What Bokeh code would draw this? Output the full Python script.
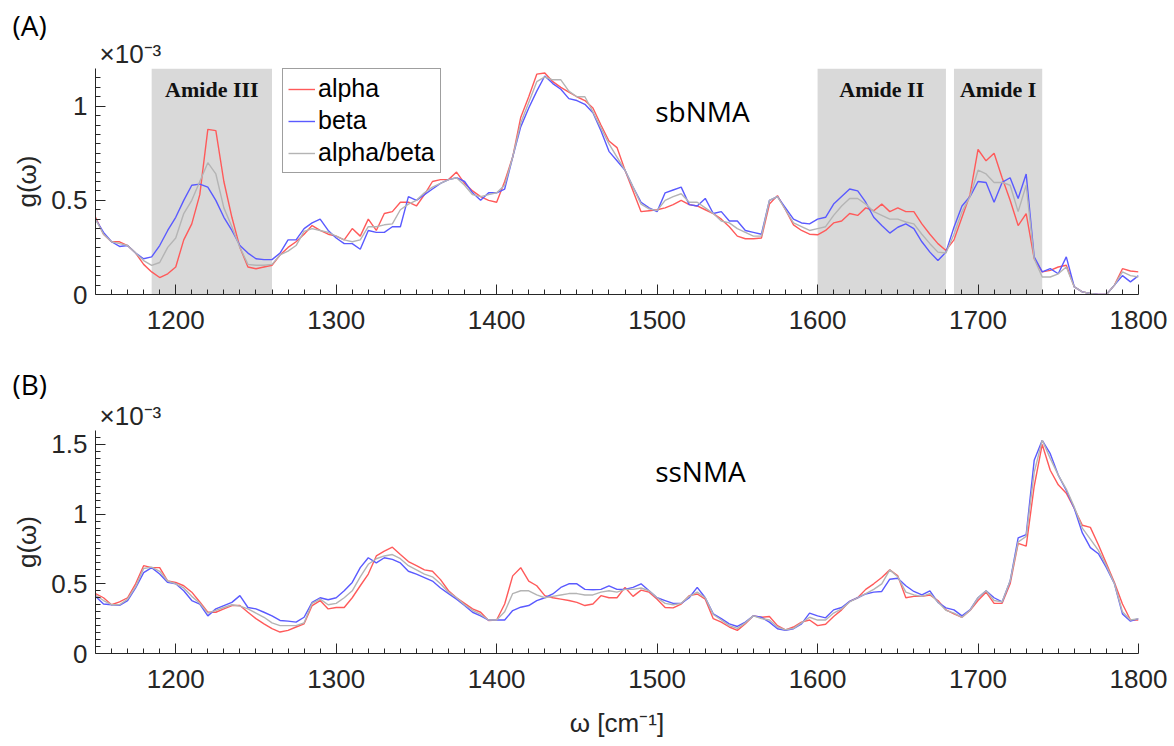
from bokeh.plotting import figure
from bokeh.layouts import column
from bokeh.models import (Range1d, FixedTicker, Label, BoxAnnotation, Legend,
                          LegendItem, NumeralTickFormatter, Title)
from bokeh.embed import file_html
from bokeh.resources import INLINE

# ---------------- data (g(w) in units of 1e-3) ----------------
wavenumber = list(range(1150, 1805, 5))

sb_alpha = [
    0.41, 0.32, 0.28, 0.28, 0.26, 0.22, 0.16, 0.12, 0.09, 0.11,
    0.146, 0.29, 0.375, 0.53, 0.877, 0.87, 0.60, 0.41, 0.25, 0.146,
    0.137, 0.146, 0.155, 0.21, 0.25, 0.28, 0.32, 0.366, 0.34, 0.32,
    0.31, 0.29, 0.35, 0.31, 0.40, 0.34, 0.43, 0.44, 0.49, 0.49,
    0.47, 0.53, 0.60, 0.61, 0.61, 0.65, 0.59, 0.55, 0.52, 0.50,
    0.49, 0.60, 0.73, 0.94, 1.05, 1.17, 1.176, 1.13, 1.10, 1.075,
    1.05, 1.03, 0.99, 0.90, 0.815, 0.78, 0.66, 0.55, 0.44, 0.445,
    0.45, 0.46, 0.477, 0.50, 0.477, 0.47, 0.45, 0.43, 0.40, 0.36,
    0.31, 0.296, 0.296, 0.30, 0.48, 0.525, 0.45, 0.37, 0.34, 0.32,
    0.317, 0.34, 0.38, 0.39, 0.43, 0.42, 0.46, 0.445, 0.48, 0.44,
    0.46, 0.44, 0.44, 0.375, 0.32, 0.27, 0.234, 0.29, 0.41, 0.53,
    0.77, 0.71, 0.75, 0.62, 0.50, 0.366, 0.43, 0.19, 0.12, 0.128,
    0.146, 0.155, 0.04, 0.014, 0.005, 0.0, 0.0, 0.05, 0.137, 0.125,
    0.12]

sb_beta = [
    0.40, 0.33, 0.28, 0.255, 0.26, 0.22, 0.19, 0.20, 0.26, 0.34,
    0.41, 0.50, 0.58, 0.586, 0.57, 0.50, 0.41, 0.34, 0.26, 0.22,
    0.19, 0.185, 0.185, 0.22, 0.29, 0.29, 0.35, 0.38, 0.40, 0.34,
    0.30, 0.27, 0.27, 0.24, 0.34, 0.33, 0.33, 0.36, 0.36, 0.52,
    0.50, 0.53, 0.56, 0.59, 0.61, 0.62, 0.60, 0.54, 0.50, 0.54,
    0.54, 0.56, 0.73, 0.89, 0.99, 1.08, 1.16, 1.12, 1.09, 1.04,
    1.03, 1.01, 0.965, 0.87, 0.76, 0.71, 0.66, 0.57, 0.49, 0.46,
    0.44, 0.54, 0.555, 0.57, 0.477, 0.47, 0.51, 0.43, 0.44, 0.39,
    0.39, 0.34, 0.33, 0.32, 0.50, 0.52, 0.46, 0.40, 0.38, 0.375,
    0.40, 0.41, 0.48, 0.52, 0.56, 0.55, 0.49, 0.41, 0.366, 0.326,
    0.357, 0.375, 0.35, 0.28, 0.225, 0.18, 0.225, 0.357, 0.47, 0.52,
    0.60, 0.595, 0.49, 0.595, 0.62, 0.51, 0.64, 0.20, 0.12, 0.137,
    0.11, 0.20, 0.04, 0.014, 0.005, 0.0, 0.0, 0.05, 0.10, 0.067,
    0.10]

sb_alphabeta = [
    0.40, 0.32, 0.28, 0.27, 0.26, 0.22, 0.18, 0.155, 0.17, 0.25,
    0.30, 0.43, 0.50, 0.60, 0.70, 0.64, 0.46, 0.36, 0.25, 0.16,
    0.155, 0.155, 0.16, 0.21, 0.23, 0.26, 0.335, 0.35, 0.34, 0.33,
    0.31, 0.29, 0.28, 0.29, 0.36, 0.36, 0.37, 0.375, 0.45, 0.48,
    0.50, 0.54, 0.57, 0.59, 0.61, 0.62, 0.58, 0.53, 0.52, 0.53,
    0.54, 0.58, 0.73, 0.91, 1.02, 1.13, 1.155, 1.14, 1.14, 1.08,
    1.05, 1.05, 0.97, 0.885, 0.80, 0.73, 0.66, 0.57, 0.48, 0.455,
    0.445, 0.50, 0.52, 0.535, 0.49, 0.49, 0.46, 0.43, 0.39, 0.38,
    0.35, 0.33, 0.31, 0.31, 0.50, 0.52, 0.45, 0.38, 0.36, 0.34,
    0.35, 0.36, 0.42, 0.47, 0.51, 0.51, 0.48, 0.44, 0.42, 0.40,
    0.40, 0.385, 0.375, 0.32, 0.27, 0.225, 0.22, 0.32, 0.44, 0.52,
    0.66, 0.64, 0.595, 0.595, 0.58, 0.44, 0.58, 0.19, 0.093, 0.093,
    0.11, 0.146, 0.04, 0.014, 0.005, 0.0, 0.0, 0.05, 0.12, 0.10,
    0.093]

ss_alpha = [
    0.43, 0.40, 0.35, 0.37, 0.40, 0.50, 0.63, 0.616, 0.616, 0.52,
    0.51, 0.486, 0.44, 0.37, 0.296, 0.296, 0.32, 0.344, 0.344, 0.296,
    0.25, 0.213, 0.178, 0.154, 0.166, 0.19, 0.213, 0.344, 0.38, 0.32,
    0.33, 0.33, 0.40, 0.486, 0.57, 0.70, 0.735, 0.763, 0.71, 0.66,
    0.63, 0.60, 0.59, 0.53, 0.45, 0.40, 0.36, 0.32, 0.296, 0.237,
    0.24, 0.355, 0.557, 0.616, 0.52, 0.486, 0.415, 0.40, 0.39, 0.38,
    0.367, 0.344, 0.355, 0.415, 0.40, 0.40, 0.474, 0.41, 0.455, 0.44,
    0.39, 0.33, 0.327, 0.355, 0.415, 0.427, 0.39, 0.25, 0.225, 0.19,
    0.166, 0.213, 0.27, 0.26, 0.265, 0.20, 0.17, 0.19, 0.225, 0.24,
    0.20, 0.21, 0.265, 0.313, 0.374, 0.40, 0.46, 0.50, 0.545, 0.60,
    0.557, 0.40, 0.41, 0.41, 0.42, 0.38, 0.313, 0.284, 0.26, 0.308,
    0.38, 0.44, 0.36, 0.36, 0.50, 0.79, 0.77, 1.20, 1.50, 1.315,
    1.21, 1.15, 1.04, 0.92, 0.905, 0.78, 0.645, 0.51, 0.355, 0.24,
    0.24]

ss_beta = [
    0.41, 0.355, 0.35, 0.345, 0.38, 0.47, 0.58, 0.616, 0.57, 0.51,
    0.50, 0.45, 0.38, 0.355, 0.27, 0.32, 0.344, 0.367, 0.415, 0.33,
    0.32, 0.296, 0.27, 0.237, 0.232, 0.225, 0.26, 0.367, 0.40, 0.386,
    0.40, 0.45, 0.51, 0.616, 0.687, 0.65, 0.687, 0.675, 0.65, 0.59,
    0.57, 0.545, 0.52, 0.47, 0.43, 0.39, 0.344, 0.296, 0.27, 0.24,
    0.24, 0.24, 0.308, 0.332, 0.344, 0.38, 0.40, 0.427, 0.474, 0.50,
    0.50, 0.46, 0.457, 0.46, 0.486, 0.46, 0.46, 0.474, 0.50, 0.45,
    0.40, 0.38, 0.36, 0.36, 0.40, 0.474, 0.40, 0.284, 0.25, 0.213,
    0.194, 0.225, 0.27, 0.26, 0.225, 0.178, 0.166, 0.178, 0.213, 0.29,
    0.27, 0.256, 0.313, 0.33, 0.374, 0.40, 0.427, 0.44, 0.445, 0.533,
    0.54, 0.486, 0.445, 0.42, 0.45, 0.367, 0.327, 0.313, 0.27, 0.313,
    0.40, 0.45, 0.40, 0.37, 0.52, 0.83, 0.853, 1.386, 1.53, 1.434,
    1.28, 1.17, 1.04, 0.865, 0.76, 0.716, 0.616, 0.50, 0.284, 0.232,
    0.25]

ss_alphabeta = [
    0.42, 0.38, 0.35, 0.35, 0.39, 0.48, 0.61, 0.62, 0.59, 0.52,
    0.50, 0.47, 0.41, 0.36, 0.29, 0.31, 0.33, 0.35, 0.34, 0.32,
    0.29, 0.26, 0.22, 0.20, 0.20, 0.20, 0.22, 0.36, 0.39, 0.35,
    0.36, 0.40, 0.45, 0.55, 0.64, 0.68, 0.70, 0.71, 0.68, 0.63,
    0.60, 0.57, 0.55, 0.50, 0.44, 0.40, 0.35, 0.31, 0.28, 0.24,
    0.24, 0.30, 0.43, 0.45, 0.45, 0.42, 0.40, 0.41, 0.42, 0.43,
    0.43, 0.42, 0.42, 0.44, 0.45, 0.44, 0.46, 0.46, 0.47, 0.45,
    0.40, 0.36, 0.35, 0.36, 0.41, 0.44, 0.40, 0.28, 0.24, 0.20,
    0.18, 0.22, 0.27, 0.25, 0.24, 0.19, 0.17, 0.18, 0.22, 0.26,
    0.24, 0.24, 0.29, 0.32, 0.37, 0.40, 0.43, 0.46, 0.50, 0.60,
    0.55, 0.44, 0.42, 0.41, 0.43, 0.37, 0.31, 0.29, 0.26, 0.31,
    0.40, 0.45, 0.38, 0.37, 0.52, 0.80, 0.84, 1.30, 1.53, 1.40,
    1.28, 1.18, 1.05, 0.90, 0.82, 0.74, 0.63, 0.50, 0.30, 0.24,
    0.25]

series_names = ["alpha", "beta", "alpha/beta"]
series_colors = ["#ff5a5a", "#5a5aff", "#b4b4b4"]

region_names = ["Amide III", "Amide II", "Amide I"]
region_start = [1185, 1600, 1685]
region_end = [1260, 1680, 1740]

x_ticks = [1200, 1300, 1400, 1500, 1600, 1700, 1800]
top_yticks = [0, 0.5, 1]
bot_yticks = [0, 0.5, 1, 1.5]

# ---------------- styling ----------------
AX = "#262626"
SANS = "Liberation Sans"
FRAME_W = 1043


def make_fig(ymax, yticks, frame_h, top_b, bottom_b):
    p = figure(output_backend="svg", toolbar_location=None,
               frame_width=FRAME_W, frame_height=frame_h,
               x_range=Range1d(1150, 1800), y_range=Range1d(0, ymax),
               min_border_left=95, min_border_right=35,
               min_border_top=top_b, min_border_bottom=bottom_b,
               outline_line_color=None,
               background_fill_color="white", border_fill_color="white")
    p.grid.visible = False
    p.xaxis.ticker = FixedTicker(ticks=x_ticks,
                                 minor_ticks=list(range(1160, 1800, 10)))
    nminor = int(round(ymax / 0.05))
    p.yaxis.ticker = FixedTicker(ticks=yticks,
                                 minor_ticks=[round(0.05 * i, 2) for i in range(1, nminor)])
    p.yaxis.formatter = NumeralTickFormatter(format="0.[0]")
    for ax in (p.xaxis[0], p.yaxis[0]):
        ax.axis_line_color = AX
        ax.axis_line_width = 1
        ax.major_tick_line_color = AX
        ax.minor_tick_line_color = AX
        ax.major_tick_in = 10
        ax.major_tick_out = 0
        ax.minor_tick_in = 5
        ax.minor_tick_out = 0
        ax.major_label_text_font = SANS
        ax.major_label_text_font_size = "26px"
        ax.major_label_text_color = AX
        ax.axis_label_text_font = SANS
        ax.axis_label_text_font_size = "26px"
        ax.axis_label_text_font_style = "normal"
        ax.axis_label_text_color = AX
    p.xaxis.major_label_standoff = 16
    p.yaxis.major_label_standoff = 8
    p.yaxis.axis_label = "g(\u03c9)"
    p.yaxis.axis_label_standoff = 6
    return p


def add_headers(p, letter, letter_standoff):
    # multiplier right above the y axis, panel letter above it
    p.add_layout(Title(text="\u00d710\u207b\u00b3", align="left", offset=4, standoff=0,
                       text_font=SANS, text_font_size="26px", text_font_style="normal",
                       text_color=AX), "above")
    p.add_layout(Title(text=letter, align="left", offset=-83, standoff=letter_standoff,
                       text_font="Open Sans", text_font_size="28px",
                       text_font_style="normal", text_color="black"), "above")


def add_lines(p, xs, ys_list):
    rs = []
    for ys, c in zip(ys_list, series_colors):
        rs.append(p.line(xs, ys, line_color=c, line_width=1.4))
    return rs


# ---------------- top panel (sbNMA) ----------------
TOP_H = 226
p1 = make_fig(1.2, top_yticks, TOP_H, 68, 58)
for s, e in zip(region_start, region_end):
    p1.add_layout(BoxAnnotation(left=s, right=e, fill_color="#d9d9d9", fill_alpha=1.0,
                                line_color=None, level="underlay"))
r_top = add_lines(p1, wavenumber, [sb_alpha, sb_beta, sb_alphabeta])
for name, s, e in zip(region_names, region_start, region_end):
    p1.add_layout(Label(x=(s + e) / 2, y=TOP_H - 21, x_units="data", y_units="screen",
                        text=name, text_font="Liberation Serif", text_font_style="bold",
                        text_font_size="22px", text_color="#111111",
                        text_align="center", text_baseline="middle"))
p1.add_layout(Label(x=607, y=184, x_units="screen", y_units="screen", text="sbNMA",
                    text_font="Open Sans", text_font_size="28px", text_color="black",
                    text_align="center", text_baseline="middle"))
add_headers(p1, "(A)", -14)
legend = Legend(items=[LegendItem(label=n, renderers=[r]) for n, r in zip(series_names, r_top)],
                location=(187, 121))
legend.border_line_color = "#404040"
legend.border_line_width = 1
legend.background_fill_color = "white"
legend.background_fill_alpha = 1.0
legend.label_text_font = SANS
legend.label_text_font_size = "25px"
legend.label_text_color = "black"
legend.glyph_width = 27
legend.glyph_height = 20
legend.label_standoff = 3
legend.padding = 5
legend.spacing = 3
legend.margin = 0
legend.label_height = 28
p1.add_layout(legend)

# ---------------- bottom panel (ssNMA) ----------------
BOT_H = 223
p2 = make_fig(1.6, bot_yticks, BOT_H, 78, 92)
add_lines(p2, wavenumber, [ss_alpha, ss_beta, ss_alphabeta])
p2.add_layout(Label(x=605, y=183, x_units="screen", y_units="screen", text="ssNMA",
                    text_font="Open Sans", text_font_size="28px", text_color="black",
                    text_align="center", text_baseline="middle"))
add_headers(p2, "(B)", -8)
p2.xaxis.axis_label = "\u03c9 [cm\u207b\u00b9]"
p2.xaxis.axis_label_standoff = 17

layout = column(p1, p2, spacing=0)
open("out.html", "w").write(file_html(layout, INLINE))
